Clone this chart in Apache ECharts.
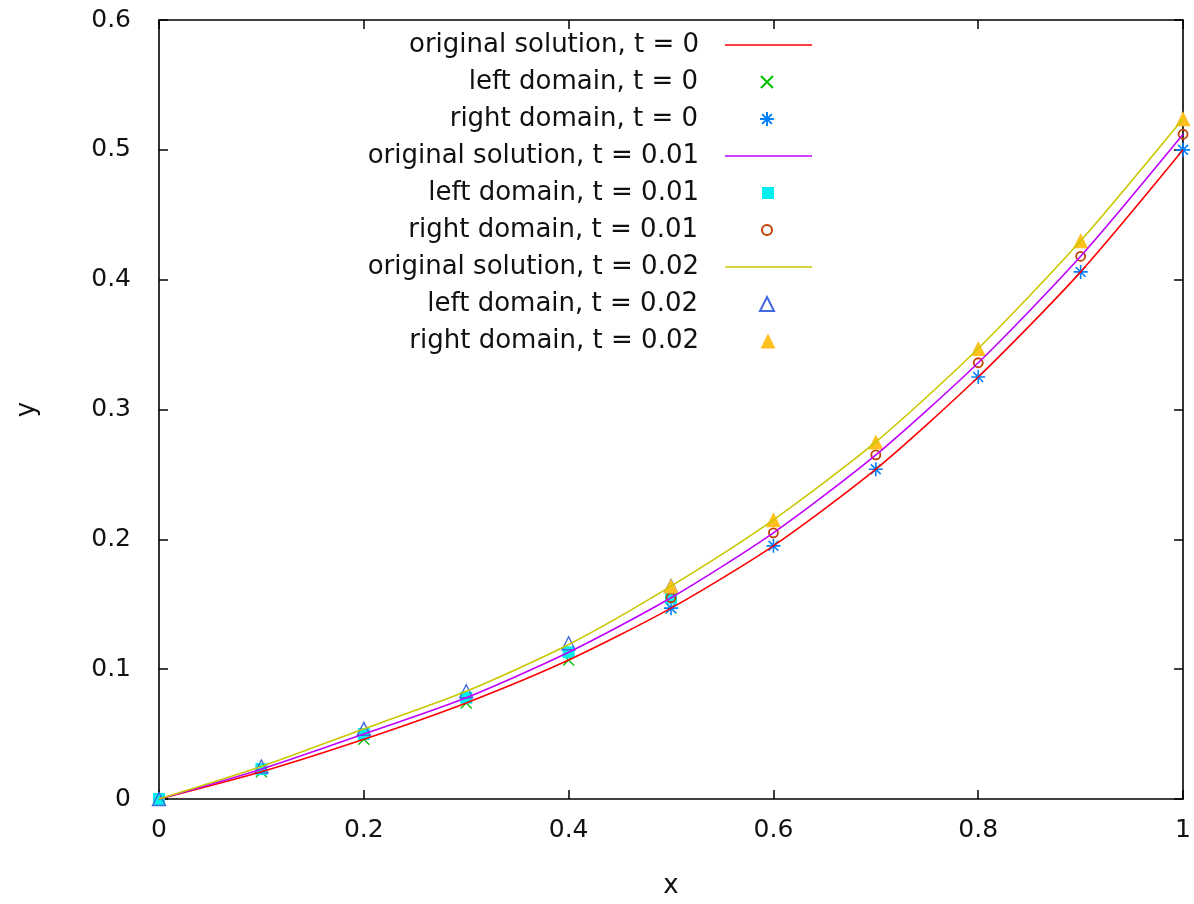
<!DOCTYPE html>
<html>
<head>
<meta charset="utf-8">
<script src="https://cdn.jsdelivr.net/npm/echarts@6/dist/echarts.min.js"></script>
<style>
html,body{margin:0;padding:0;background:#fff;}
#chart{width:1194px;height:904px;}
</style>
</head>
<body>
<div id="chart"></div>
<script>
// x positions
const xAll = [0, 0.1, 0.2, 0.3, 0.4, 0.5, 0.6, 0.7, 0.8, 0.9, 1.0];
const xLeft = [0, 0.1, 0.2, 0.3, 0.4, 0.5];
const xRight = [0.5, 0.6, 0.7, 0.8, 0.9, 1.0];

// original solutions
const orig_t0   = [0, 0.021, 0.046, 0.074, 0.107, 0.147, 0.195, 0.254, 0.325, 0.406, 0.500];
const orig_t001 = [0, 0.023, 0.050, 0.078, 0.113, 0.155, 0.205, 0.265, 0.336, 0.418, 0.512];
const orig_t002 = [0, 0.025, 0.054, 0.083, 0.119, 0.164, 0.215, 0.275, 0.347, 0.430, 0.524];

// domain solutions
const left_t0    = [0, 0.021, 0.046, 0.074, 0.107, 0.147];
const right_t0   = [0.147, 0.195, 0.254, 0.325, 0.406, 0.500];
const left_t001  = [0, 0.023, 0.050, 0.078, 0.113, 0.155];
const right_t001 = [0.155, 0.205, 0.265, 0.336, 0.418, 0.512];
const left_t002  = [0, 0.025, 0.054, 0.083, 0.120, 0.164];
const right_t002 = [0.164, 0.215, 0.275, 0.347, 0.430, 0.524];

const names = [
  'original solution, t = 0', 'left domain, t = 0', 'right domain, t = 0',
  'original solution, t = 0.01', 'left domain, t = 0.01', 'right domain, t = 0.01',
  'original solution, t = 0.02', 'left domain, t = 0.02', 'right domain, t = 0.02'
];
const xTicks = [0, 0.2, 0.4, 0.6, 0.8, 1];
const yTicks = [0, 0.1, 0.2, 0.3, 0.4, 0.5, 0.6];

const zip = (xs, ys) => xs.map((x, i) => [x, ys[i]]);
const FONT = 'DejaVu Sans';
const TXT = '#111';

const crossPath = 'path://M0,0L10,10M10,0L0,10';
const starPath = 'path://M0,10L20,10M10,0L10,20M3,3L17,17M3,17L17,3';

function lineSeries(name, ys, color) {
  return { name, type: 'line', data: zip(xAll, ys), symbol: 'none', smooth: 0.25,
    lineStyle: { color, width: 1.6 }, itemStyle: { color }, emphasis: { disabled: true } };
}
function scatter(name, xs, ys, symbol, size, fill, stroke, bw) {
  return { name, type: 'scatter', data: zip(xs, ys), symbol, symbolSize: size,
    itemStyle: { color: fill, borderColor: stroke, borderWidth: bw, opacity: 1 }, emphasis: { disabled: true } };
}

const series = [
  lineSeries(names[0], orig_t0, '#ff0000'),
  scatter(names[1], xLeft, left_t0, crossPath, 11, 'transparent', '#00c000', 1.3),
  scatter(names[2], xRight, right_t0, starPath, 14, 'transparent', '#0080ff', 1.6),
  lineSeries(names[3], orig_t001, '#c000ff'),
  scatter(names[4], xLeft, left_t001, 'rect', 12, '#00eeee', '#00eeee', 0),
  scatter(names[5], xRight, right_t001, 'circle', 9, 'transparent', '#c04000', 1.8),
  lineSeries(names[6], orig_t002, '#c8c800'),
  scatter(names[7], xLeft, left_t002, 'triangle', 13, 'transparent', '#4169e1', 1.4),
  scatter(names[8], xRight, right_t002, 'triangle', 15, '#ffc020', '#ffc020', 0)
];

// legend layout: text right edge ~700, line sample 725..812, markers centred at 768
const rowCenters = [45, 82, 119, 156, 193, 230, 267, 304, 341];
const isLine = [true, false, false, true, false, false, true, false, false];
const iconSize = [0, 12, 14, 0, 12, 10, 0, 14, 15];
const legends = names.map((n, i) => {
  const W = 1194, textRight = 699;
  if (isLine[i]) {
    return {
      data: [{ name: n, icon: 'rect' }], orient: 'vertical', align: 'right',
      right: W - 812, top: rowCenters[i] - 15, padding: 0,
      itemWidth: 87, itemHeight: 1.6, selectedMode: false,
      textStyle: { fontFamily: FONT, fontSize: 26, color: TXT, lineHeight: 30, padding: [0, 725 - textRight - 5, 0, 0] }
    };
  }
  const s = iconSize[i];
  const iconLeft = 768 - s / 2;
  return {
    data: [n], orient: 'vertical', align: 'right',
    right: W - (768 + s / 2), top: rowCenters[i] - 15, padding: 0,
    itemWidth: s, itemHeight: s, selectedMode: false,
    textStyle: { fontFamily: FONT, fontSize: 26, color: TXT, lineHeight: 30, padding: [0, iconLeft - textRight - 5, 0, 0] }
  };
});

const axisCommon = {
  axisLine: { show: true, onZero: false, lineStyle: { color: '#000', width: 1.6 } },
  axisTick: { show: true, inside: true, length: 9, lineStyle: { color: '#000', width: 1.5 } },
  splitLine: { show: false }
};

const option = {
  animation: false,
  backgroundColor: '#fff',
  grid: { left: 159, right: 9, top: 20, bottom: 104 },
  legend: legends,
  xAxis: [
    Object.assign({ type: 'value', min: 0, max: 1, interval: 0.2, position: 'bottom',
      name: 'x', nameLocation: 'middle', nameGap: 74,
      nameTextStyle: { fontFamily: FONT, fontSize: 26, color: TXT },
      axisLabel: { fontFamily: FONT, fontSize: 25, color: TXT, margin: 19,
        formatter: v => String(+v.toFixed(1)) } }, axisCommon),
    Object.assign({ type: 'value', min: 0, max: 1, interval: 0.2, position: 'top',
      axisLabel: { show: false } }, axisCommon)
  ],
  yAxis: [
    Object.assign({ type: 'value', min: 0, max: 0.6, interval: 0.1, position: 'left',
      name: 'y', nameLocation: 'middle', nameGap: 119,
      nameTextStyle: { fontFamily: FONT, fontSize: 26, color: TXT },
      axisLabel: { fontFamily: FONT, fontSize: 25, color: TXT, margin: 28,
        formatter: v => String(+v.toFixed(1)) } }, axisCommon),
    Object.assign({ type: 'value', min: 0, max: 0.6, interval: 0.1, position: 'right',
      axisLabel: { show: false } }, axisCommon)
  ],
  series
};

const chart = echarts.init(document.getElementById('chart'), null, { renderer: 'canvas' });
chart.setOption(option);
</script>
</body>
</html>
